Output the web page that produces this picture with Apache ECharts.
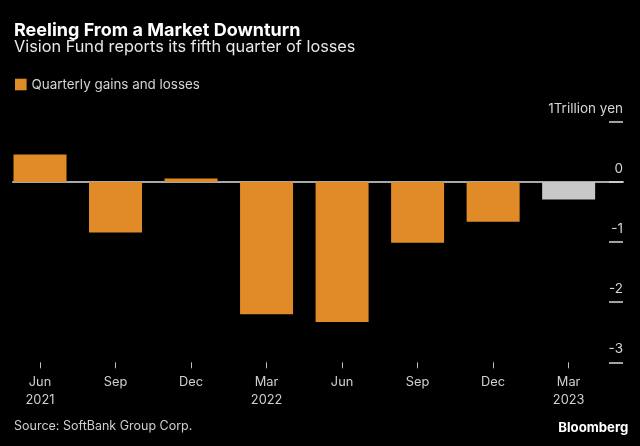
<!DOCTYPE html>
<html><head><meta charset="utf-8">
<script src="https://cdn.jsdelivr.net/npm/echarts@6/dist/echarts.min.js"></script>
<style>html,body{margin:0;padding:0;background:#000}#c{width:640px;height:446px}</style>
</head><body><div id="c"></div>
<script>
// Data
const categories = ['Jun 2021','Sep 2021','Dec 2021','Mar 2022','Jun 2022','Sep 2022','Dec 2022','Mar 2023'];
const tickLabels = ['Jun\n2021','Sep','Dec','Mar\n2022','Jun','Sep','Dec','Mar\n2023'];
const values = [0.46, -0.84, 0.06, -2.20, -2.33, -1.01, -0.66, -0.29];
const estimated = [false, false, false, false, false, false, false, true];
const yTicks = [1, 0, -1, -2, -3];
const seriesName = 'Quarterly gains and losses';

const ORANGE = '#e08b28', GRAY = '#c8c8c8';
const FONT = 'Inter';
const chart = echarts.init(document.getElementById('c'), null, {renderer:'canvas'});
chart.setOption({
  backgroundColor: '#000',
  animation: false,
  textStyle: {fontFamily: FONT},
  title: [
    {text: 'Reeling From a Market Downturn', left: 14, top: 21.8, padding: 0,
     textStyle: {color: '#fff', fontSize: 18, fontWeight: 'bold', fontFamily: FONT, lineHeight: 18}},
    {text: 'Vision Fund reports its fifth quarter of losses', left: 14, top: 38.7, padding: 0,
     textStyle: {color: '#e8e8e8', fontSize: 16.3, fontWeight: 'normal', fontFamily: FONT, lineHeight: 16}},
    {text: 'Source: SoftBank Group Corp.', left: 14, top: 419.6, padding: 0,
     textStyle: {color: '#cfcfcf', fontSize: 12.5, fontWeight: 'normal', fontFamily: FONT, lineHeight: 12.5}},
    {text: 'Bloomberg', right: 11.7, top: 421.7, padding: 0,
     textStyle: {color: '#fff', fontSize: 13.2, fontWeight: 'bold', fontFamily: FONT, lineHeight: 13.2}}
  ],
  legend: {
    data: [seriesName], left: 15, top: 77.5, padding: 0, icon: 'rect',
    itemWidth: 11.6, itemHeight: 11.6, itemGap: 10,
    textStyle: {color: '#d4d4d4', fontSize: 13.4, fontFamily: FONT, lineHeight: 12, padding: [2,0,0,0]}
  },
  grid: [
    {left: 2.25, right: 33.6, top: 122, bottom: 83.7},
    {left: 13, right: 17, top: 122, bottom: 83.7}
  ],
  xAxis: [
    {type: 'category', gridIndex: 0, data: categories, position: 'bottom',
     axisLine: {show: false, onZero: false},
     axisTick: {show: true, alignWithLabel: true, length: 6, lineStyle: {color: '#bdbdbd', width: 1}},
     axisLabel: {color: '#d0d0d0', fontSize: 12.8, lineHeight: 18, margin: 10.4, fontFamily: FONT,
       formatter: (v, i) => tickLabels[i]},
     splitLine: {show: false}},
    {type: 'category', gridIndex: 1, data: [''],
     axisLine: {show: true, onZero: true, lineStyle: {color: '#a8a8a8', width: 2}},
     axisTick: {show: false}, axisLabel: {show: false}, splitLine: {show: false}}
  ],
  yAxis: [
    {type: 'value', gridIndex: 0, min: -3, max: 1, interval: 1, show: false, splitLine: {show: false}},
    {type: 'value', gridIndex: 1, position: 'right', min: -3, max: 1, interval: 1,
     axisLine: {show: false},
     axisTick: {show: true, inside: true, length: 14, lineStyle: {color: '#d8d8d8', width: 1.5}},
     splitLine: {show: false},
     axisLabel: {inside: true, margin: 0, color: '#d4d4d4', fontSize: 13.5, fontFamily: FONT,
       verticalAlign: 'bottom', lineHeight: 26, showMinLabel: true, showMaxLabel: true,
       formatter: v => (yTicks.includes(v) ? (v === 1 ? '1Trillion yen' : String(v)) : '')}}
  ],
  series: [{
    name: seriesName, type: 'bar', xAxisIndex: 0, yAxisIndex: 0, barWidth: 53,
    itemStyle: {color: ORANGE},
    data: values.map((v, i) => estimated[i] ? {value: v, itemStyle: {color: GRAY}} : v)
  }]
});
</script></body></html>
